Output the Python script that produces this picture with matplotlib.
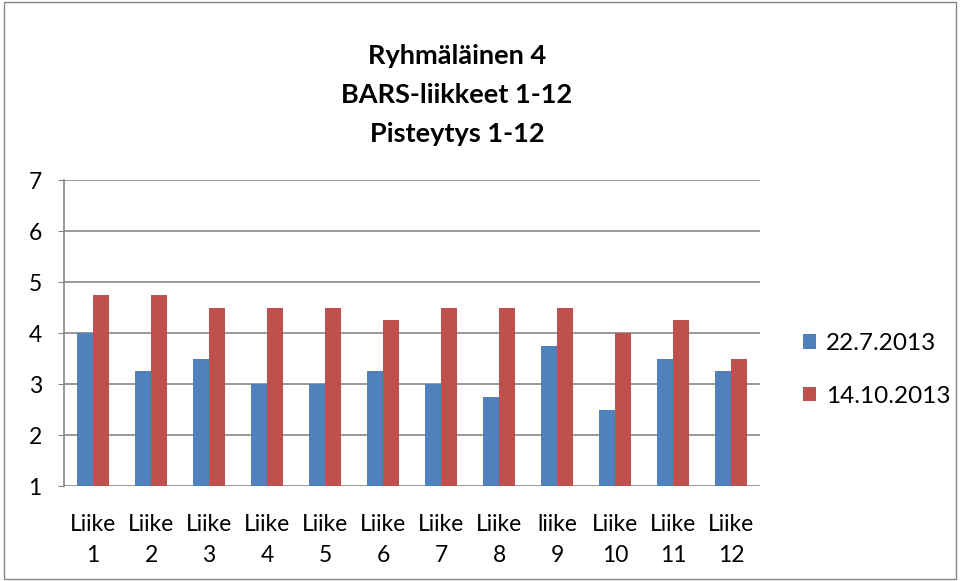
import numpy as np
import matplotlib.pyplot as plt

categories = ['Liike\n1', 'Liike\n2', 'Liike\n3', 'Liike\n4', 'Liike\n5', 'Liike\n6',
              'Liike\n7', 'Liike\n8', 'liike\n9', 'Liike\n10', 'Liike\n11', 'Liike\n12']
series_names = ['22.7.2013', '14.10.2013']
july = [4, 3.25, 3.5, 3, 3, 3.25, 3, 2.75, 3.75, 2.5, 3.5, 3.25]
october = [4.75, 4.75, 4.5, 4.5, 4.5, 4.25, 4.5, 4.5, 4.5, 4.0, 4.25, 3.5]
colors = ['#4F81BD', '#C0504D']

plt.rcParams['font.family'] = ['Lato', 'DejaVu Sans']

fig = plt.figure(figsize=(9.6, 5.81), dpi=100)
ax = fig.add_axes([0.0667, 0.1635, 0.725, 0.5265])

x = np.arange(len(categories))
w = 0.275
ax.bar(x - w / 2, july, w, color=colors[0], label=series_names[0], zorder=3)
ax.bar(x + w / 2, october, w, color=colors[1], label=series_names[1], zorder=3)

ax.set_ylim(1, 7)
ax.set_xlim(-0.5, len(categories) - 0.5)
ax.set_yticks(range(1, 8))
ax.set_xticks(x)
ax.set_xticklabels(categories, fontsize=16.5, linespacing=1.6)
ax.tick_params(axis='y', labelsize=16.5, length=4, color='#868686', pad=12)
ax.tick_params(axis='x', length=0, pad=20)
ax.grid(axis='y', color='#868686', linewidth=1.2, zorder=0)
for s in ['top', 'right', 'bottom']:
    ax.spines[s].set_visible(False)
ax.spines['left'].set_color('#868686')
ax.spines['left'].set_linewidth(1.2)

fig.text(0.476, 0.837, 'Ryhmäläinen 4\nBARS-liikkeet 1-12\nPisteytys 1-12', ha='center', va='center',
         fontsize=19.5, fontweight='bold', linespacing=1.75)

ax.legend(loc='center left', bbox_to_anchor=(1.03, 0.38), frameon=False, fontsize=17.5,
          handlelength=0.55, handleheight=0.55, handletextpad=0.4, labelspacing=1.3)

fig.patches.append(plt.Rectangle((0.004, 0.004), 0.992, 0.992, transform=fig.transFigure,
                                 fill=False, edgecolor='#868686', linewidth=1))

fig.savefig('out.png', dpi=100)
